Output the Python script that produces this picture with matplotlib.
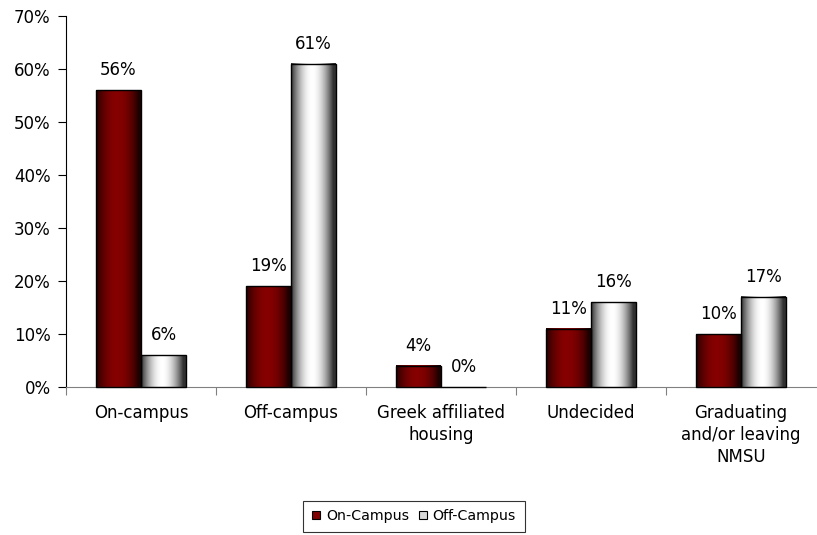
import numpy as np
import matplotlib
matplotlib.use("Agg")
import matplotlib.pyplot as plt
from matplotlib.patches import Rectangle
from matplotlib.ticker import FuncFormatter
from matplotlib.colors import to_rgb

categories = ["On-campus", "Off-campus", "Greek affiliated\nhousing", "Undecided",
              "Graduating\nand/or leaving\nNMSU"]
on_campus = [56, 19, 4, 11, 10]
off_campus = [6, 61, 0, 16, 17]
series_names = ["On-Campus", "Off-Campus"]

plt.rcParams["font.family"] = ["DejaVu Sans"]

fig = plt.figure(figsize=(8.17, 5.35), dpi=100)
ax = fig.add_axes([66 / 817, 1 - 387 / 535, 750 / 817, (387 - 16) / 535])

width = 0.3
x = np.arange(len(categories))


def shade(center, edge, power, n=64):
    t = np.linspace(0, 1, n)
    w = np.sin(np.pi * np.clip(t * 1.06, 0, 1)) ** power
    c, e = np.array(to_rgb(center)), np.array(to_rgb(edge))
    row = e[None, :] + (c - e)[None, :] * w[:, None]
    return row[None, :, :]


red_grad = shade("#860000", "#1e0000", 0.75)
white_grad = shade("#ffffff", "#303030", 0.9)


def draw_bars(xs, vals, grad):
    bars = ax.bar(xs, vals, width, facecolor="none", edgecolor="black", linewidth=1.0,
                  zorder=3, clip_on=False)
    for b in bars:
        bx, by, bw, bh = b.get_x(), b.get_y(), b.get_width(), b.get_height()
        if bh > 0:
            ax.imshow(grad, extent=(bx, bx + bw, by, by + bh), aspect="auto",
                      interpolation="bilinear", zorder=2)
    return bars


bars_on = draw_bars(x - width / 2, on_campus, red_grad)
bars_off = draw_bars(x + width / 2, off_campus, white_grad)

for bars, vals in ((bars_on, on_campus), (bars_off, off_campus)):
    for b, v in zip(bars, vals):
        ax.annotate(f"{v}%", (b.get_x() + b.get_width() / 2, v), xytext=(0, 8),
                    textcoords="offset points", ha="center", va="bottom", fontsize=12)

ax.set_xlim(-0.5, len(categories) - 0.5)
ax.set_ylim(0, 70)
ax.set_yticks(np.arange(0, 71, 10))
ax.yaxis.set_major_formatter(FuncFormatter(lambda v, p: f"{v:.0f}%"))
ax.set_xticks(np.arange(len(categories)) - 0.5)
ax.set_xticklabels([])
ax.set_xticks(x, minor=True)
ax.set_xticklabels(categories, minor=True, fontsize=12, linespacing=1.3)
ax.tick_params(axis="x", which="minor", length=0, pad=12)
ax.tick_params(axis="x", which="major", length=6, direction="out", color="#808080")
ax.tick_params(axis="y", length=6, direction="out", labelsize=12, pad=5)

for s in ("top", "right"):
    ax.spines[s].set_visible(False)
ax.spines["bottom"].set_color("#808080")
ax.spines["left"].set_color("black")

handles = [Rectangle((0, 0), 1, 1, facecolor="#800000", edgecolor="black", linewidth=0.8),
           Rectangle((0, 0), 1, 1, facecolor="#d8d8d8", edgecolor="black", linewidth=0.8)]
leg = fig.legend(handles, series_names, loc="center", bbox_to_anchor=(414 / 817, 1 - 516 / 535),
                 ncol=2, fontsize=10.2, frameon=True, fancybox=False, handlelength=0.58,
                 handleheight=0.58, handletextpad=0.4, columnspacing=0.7, borderpad=0.6,
                 borderaxespad=0)
leg.get_frame().set_edgecolor("black")
leg.get_frame().set_linewidth(0.8)

fig.savefig("out.png", dpi=100)
